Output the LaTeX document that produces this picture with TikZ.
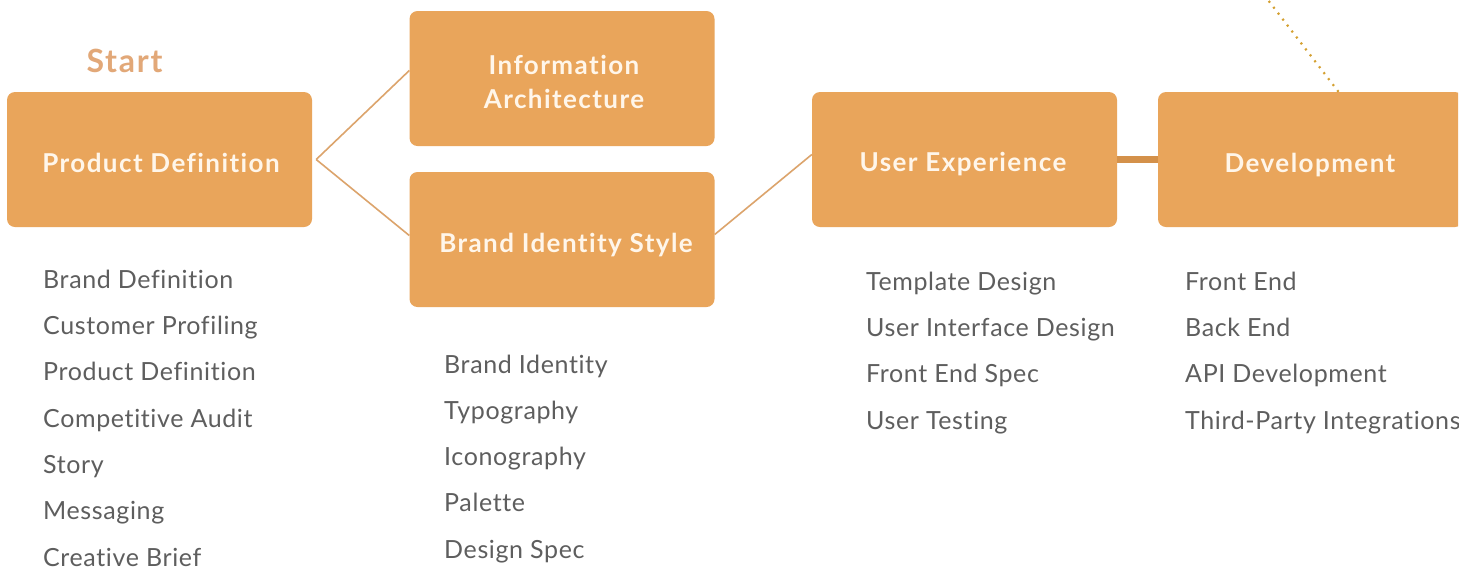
\documentclass[tikz,border=0pt]{standalone}
\usepackage{fontspec}
\setmainfont{Lato}[Ligatures=NoCommon]
\newfontfamily\listfont{Lato}[LetterSpace=2.5,Ligatures=NoCommon]
\newfontfamily\titlefont{Lato}[LetterSpace=5.5,Ligatures=NoCommon]
\definecolor{boxfill}{HTML}{E9A55B}
\definecolor{boxtext}{HTML}{FFF6EA}
\definecolor{linecol}{HTML}{DCA46C}
\definecolor{barcol}{HTML}{D4914A}
\definecolor{startcol}{HTML}{E2A878}
\definecolor{listcol}{HTML}{5E5E5E}
\definecolor{dotcol}{HTML}{D4A030}
\begin{document}
\begin{tikzpicture}[x=1pt,y=-1pt,
  stage/.style={fill=boxfill, rounded corners=8pt, minimum width=305pt, minimum height=135pt,
    inner sep=0pt, text=boxtext, align=center},
  title/.style={anchor=base, inner sep=0pt, text=boxtext, align=center, font=\titlefont\fontsize{26}{34}\selectfont\bfseries},
  item/.style={anchor=base west, inner sep=0pt, text=listcol, font=\listfont\fontsize{25}{28}\selectfont},
  thin/.style={draw=linecol, line width=1.6pt},
  bar/.style={draw=barcol, line width=7pt},
  dots/.style={draw=dotcol, line width=2.2pt, dash pattern=on 2pt off 5.5pt}]
\useasboundingbox (0,0) rectangle (1477,566);
\fill[white] (0,0) rectangle (1477,566);

\node[anchor=base, text=startcol, font=\titlefont\fontsize{32}{36}\selectfont\bfseries, inner sep=0pt] (start) at (124.5,72) {Start};

\node[stage] (pd) at (159.5,159.5) {};
\node[title] (pdt) at (161,172) {Product Definition};
\node[stage] (ia) at (562,78.5) {};
\node[title] (iat) at (564,108) {Information\\Architecture};
\node[stage] (bis) at (562,239.5) {};
\node[title] (bist) at (566,252) {Brand Identity Style};
\node[stage] (ux) at (964.5,159.5) {};
\node[title] (uxt) at (963,171.5) {User Experience};
\begin{scope}
\clip (0,0) rectangle (1458,566);
\node[stage] (dev) at (1310.5,159.5) {};
\node[title] (devt) at (1310,172.5) {Development};
\node[item] (d4) at (1185,429) {Third-Party Integrations};
\end{scope}

\coordinate (pdout) at ([xshift=4pt]pd.east);
\draw[thin] (pdout) -- ([yshift=8pt]ia.west);
\draw[thin] (pdout) -- ([yshift=4pt]bis.west);
\draw[thin] ([yshift=5pt]bis.east) -- ([yshift=5pt]ux.west);
\draw[bar] (ux.east) -- (dev.west);
\coordinate (dotend) at (1268,0);
\draw[dots] ([xshift=28pt]dev.north) -- (dotend);

\node[item] (p1) at (43,288) {Brand Definition};
\node[item] (p2) at (43,334) {Customer Profiling};
\node[item] (p3) at (43,380) {Product Definition};
\node[item] (p4) at (43,427) {Competitive Audit};
\node[item] (p5) at (43,473) {Story};
\node[item] (p6) at (43,519) {Messaging};
\node[item] (p7) at (43,566) {Creative Brief};

\node[item] (b1) at (444,373) {Brand Identity};
\node[item] (b2) at (444,419) {Typography};
\node[item] (b3) at (444,465) {Iconography};
\node[item] (b4) at (444,511) {Palette};
\node[item] (b5) at (444,558) {Design Spec};

\node[item] (u1) at (866,290) {Template Design};
\node[item] (u2) at (866,336) {User Interface Design};
\node[item] (u3) at (866,382) {Front End Spec};
\node[item] (u4) at (866,429) {User Testing};

\node[item] (d1) at (1185,290) {Front End};
\node[item] (d2) at (1185,336) {Back End};
\node[item] (d3) at (1185,382) {API Development};
\end{tikzpicture}
\end{document}
